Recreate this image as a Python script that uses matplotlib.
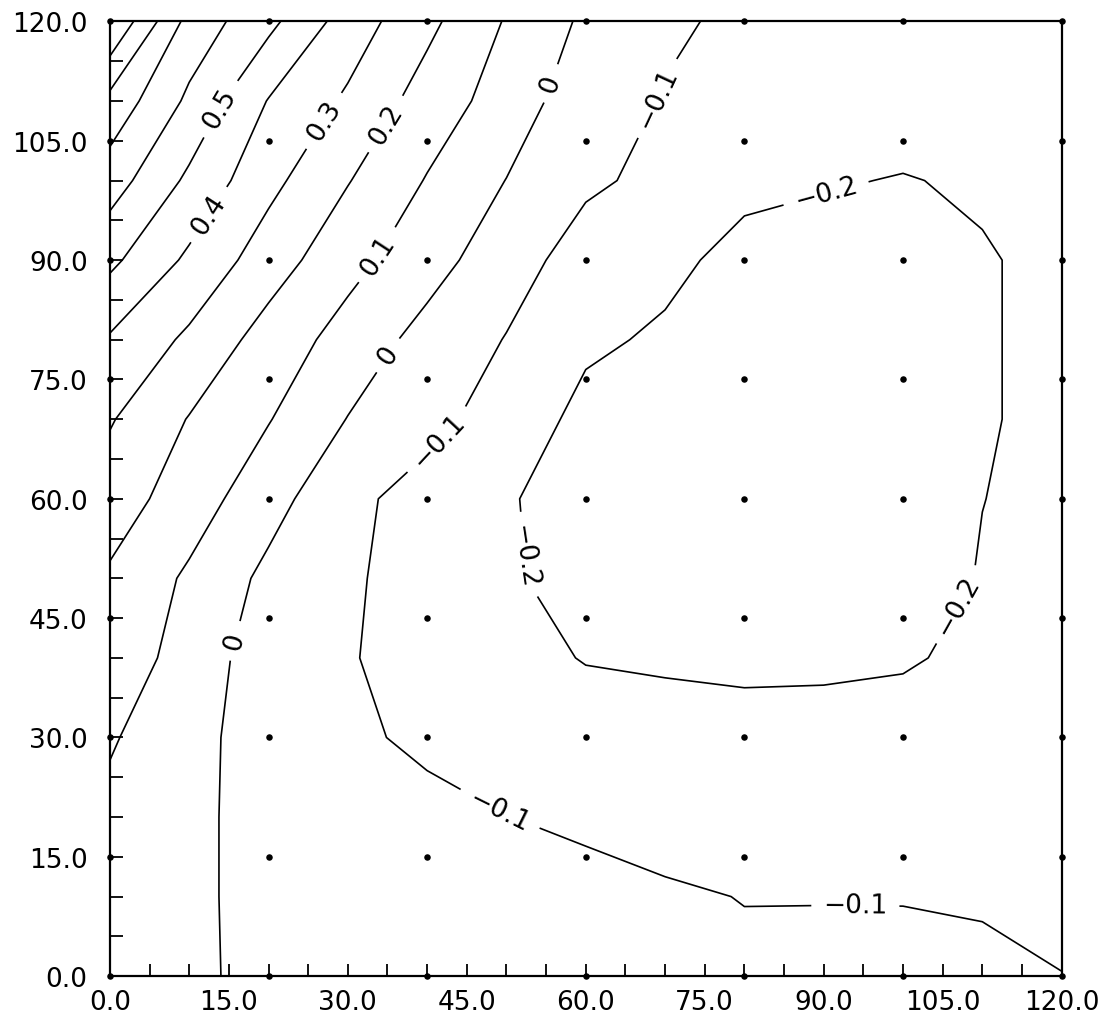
import numpy as np
import matplotlib
matplotlib.use('Agg')
import matplotlib.pyplot as plt
from matplotlib.ticker import MultipleLocator, FormatStrFormatter

# grid the field is contoured on
x_grid = [0, 10, 20, 30, 40, 50, 60, 70, 80, 90, 100, 110, 120]
y_grid = [0, 10, 20, 30, 40, 50, 60, 70, 80, 90, 100, 110, 120]

# field values, one row per y_grid value (bottom to top)
z_rows = [
    [0.050, 0.010, -0.015, -0.025, -0.035, -0.048, -0.060, -0.072, -0.086, -0.088, -0.089, -0.087, -0.099],
    [0.060, 0.012, -0.020, -0.028, -0.042, -0.058, -0.074, -0.090, -0.102, -0.1015, -0.1015, -0.106, -0.115],
    [0.075, 0.015, -0.025, -0.045, -0.072, -0.099, -0.115, -0.130, -0.140, -0.145, -0.145, -0.140, -0.130],
    [0.110, 0.030, -0.045, -0.081, -0.120, -0.140, -0.160, -0.170, -0.175, -0.175, -0.172, -0.160, -0.150],
    [0.160, 0.060, -0.055, -0.094, -0.134, -0.173, -0.204, -0.210, -0.215, -0.213, -0.207, -0.185, -0.165],
    [0.186, 0.084, -0.024, -0.087, -0.140, -0.190, -0.230, -0.250, -0.260, -0.260, -0.240, -0.195, -0.175],
    [0.250, 0.150, 0.037, -0.075, -0.140, -0.193, -0.235, -0.250, -0.260, -0.260, -0.245, -0.201, -0.180],
    [0.308, 0.195, 0.105, -0.003, -0.069, -0.147, -0.225, -0.235, -0.245, -0.250, -0.240, -0.205, -0.185],
    [0.389, 0.281, 0.158, 0.062, -0.035, -0.104, -0.185, -0.212, -0.230, -0.240, -0.235, -0.205, -0.185],
    [0.522, 0.381, 0.249, 0.132, 0.041, -0.060, -0.140, -0.180, -0.225, -0.225, -0.225, -0.205, -0.185],
    [0.648, 0.480, 0.328, 0.205, 0.094, -0.002, -0.085, -0.123, -0.180, -0.195, -0.203, -0.192, -0.175],
    [0.770, 0.580, 0.395, 0.284, 0.156, 0.056, -0.060, -0.105, -0.145, -0.160, -0.170, -0.170, -0.165],
    [1.000, 0.665, 0.526, 0.355, 0.225, 0.092, -0.018, -0.088, -0.115, -0.140, -0.150, -0.155, -0.150],
]

# measurement stations (the dots)
station_x = [0, 20, 40, 60, 80, 100, 120]
station_y = [0, 15, 30, 45, 60, 75, 90, 105, 120]

levels = [-0.2, -0.1, 0.0, 0.1, 0.2, 0.3, 0.4, 0.5, 0.6, 0.7, 0.8, 0.9]
label_levels = [-0.2, -0.1, 0.0, 0.1, 0.2, 0.3, 0.4, 0.5]

# where the contour labels sit
label_spots = [(13.4, 109.3), (12.2, 95.9), (27.8, 107.0), (33.3, 108.0),
               (32.6, 91.3), (54.2, 112.7), (34.2, 78.6), (13.6, 42.7),
               (69.4, 110.2), (41.2, 67.5), (49.2, 21.0), (94.0, 9.7),
               (90.4, 98.0), (51.7, 52.8), (107.2, 46.5)]


def fmt(v):
    s = '{:g}'.format(round(v, 1))
    return s.replace('-', '\u2212')


plt.rcParams['font.family'] = ['DejaVu Sans']
fig = plt.figure(figsize=(10.99, 10.2), dpi=100)
ax = fig.add_axes([0.100, 0.042, 0.866, 0.936])

Z = np.array(z_rows)
cs = ax.contour(x_grid, y_grid, Z, levels=levels, colors='black',
                linewidths=1.2, negative_linestyles='solid')
ax.clabel(cs, levels=label_levels, manual=label_spots, fmt=fmt,
          inline=True, inline_spacing=12, fontsize=19)

sx, sy = np.meshgrid(station_x, station_y)
ax.scatter(sx.ravel(), sy.ravel(), s=22, color='black', zorder=4,
           clip_on=False, linewidths=0)

ax.set_xlim(0, 120)
ax.set_ylim(0, 120)
ax.xaxis.set_major_locator(MultipleLocator(15))
ax.yaxis.set_major_locator(MultipleLocator(15))
ax.xaxis.set_minor_locator(MultipleLocator(5))
ax.yaxis.set_minor_locator(MultipleLocator(5))
ax.xaxis.set_major_formatter(FormatStrFormatter('%.1f'))
ax.yaxis.set_major_formatter(FormatStrFormatter('%.1f'))
ax.tick_params(which='both', direction='in', length=9, width=1.3,
               top=False, right=False, labelsize=19)
ax.tick_params(axis='y', which='major', pad=16)
ax.tick_params(axis='x', which='major', pad=9)
for sp in ax.spines.values():
    sp.set_linewidth(1.6)

fig.savefig('out.png', dpi=100)
